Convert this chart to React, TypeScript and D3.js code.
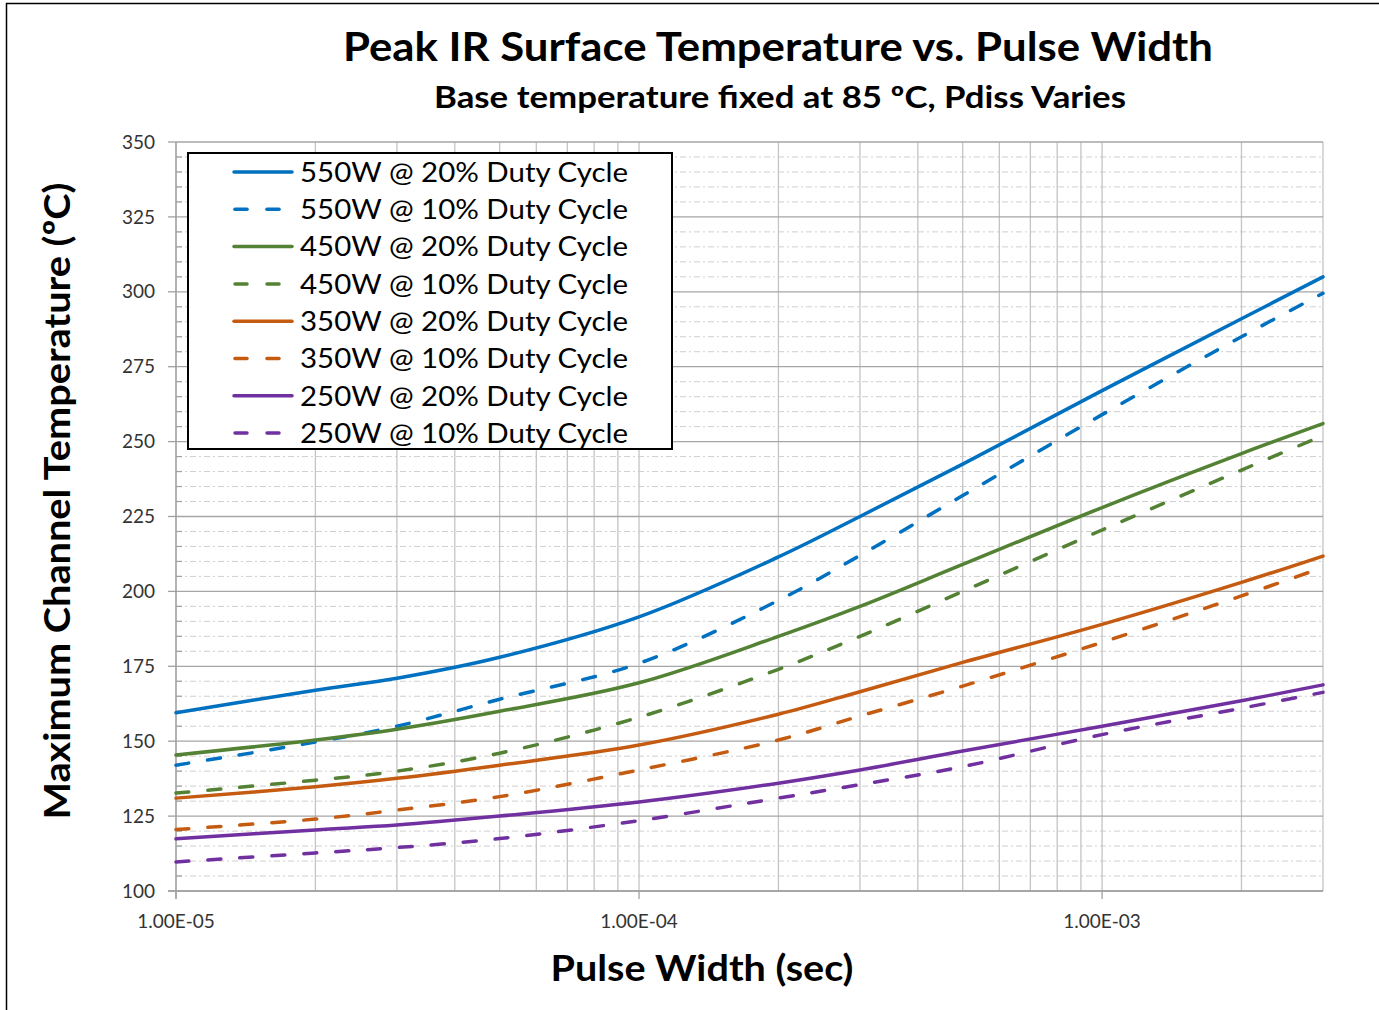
import React from "react";
import * as d3 from "d3";

const pulseWidths = [1e-5, 2e-5, 3e-5, 5e-5, 1e-4, 2e-4, 3e-4, 5e-4, 1e-3, 2e-3, 3e-3];

const w550d20 = [159.5, 167, 171, 178, 191.5, 211.5, 225, 242.5, 267, 291, 305];
const w550d10 = [142, 149.7, 155, 164, 176, 197, 212, 232, 259, 285, 299.5];
const w450d20 = [145.4, 150.4, 154, 160, 169.5, 185, 195, 209, 228, 246, 256];
const w450d10 = [132.7, 137, 140, 146, 158, 174, 185, 200, 220.5, 240.5, 252];
const w350d20 = [131, 134.8, 137.6, 142, 148.7, 159, 166.5, 176.3, 189, 203, 211.8];
const w350d10 = [120.5, 124, 127, 131.5, 140.4, 150.4, 158.4, 168.4, 183, 198.5, 208];
const w250d20 = [117.4, 120.4, 122, 125, 129.7, 136, 140.4, 146.7, 155, 163.5, 168.8];
const w250d10 = [109.7, 112.7, 114.5, 117.5, 123.5, 131, 135.5, 141.5, 152.2, 161, 166.3];

const seriesNames = [
  "550W @ 20% Duty Cycle",
  "550W @ 10% Duty Cycle",
  "450W @ 20% Duty Cycle",
  "450W @ 10% Duty Cycle",
  "350W @ 20% Duty Cycle",
  "350W @ 10% Duty Cycle",
  "250W @ 20% Duty Cycle",
  "250W @ 10% Duty Cycle",
];
const seriesValues = [w550d20, w550d10, w450d20, w450d10, w350d20, w350d10, w250d20, w250d10];
const seriesColors = ["#0070C0", "#0070C0", "#548235", "#548235", "#C55A11", "#C55A11", "#7030A0", "#7030A0"];
const seriesDashed = [false, true, false, true, false, true, false, true];

const yTicks = [100, 125, 150, 175, 200, 225, 250, 275, 300, 325, 350];
const xTickValues = [1e-5, 1e-4, 1e-3];
const xTickLabels = ["1.00E-05", "1.00E-04", "1.00E-03"];

const FONT = "Lato, 'Open Sans', sans-serif";

export default function App() {
  const W = 1379;
  const H = 1010;
  const left = 176, right = 1323, top = 142, bottom = 891;
  const x = d3.scaleLog().domain([1e-5, 3e-3]).range([left, right]);
  const y = d3.scaleLinear().domain([100, 350]).range([bottom, top]);

  const minorY = d3.range(100, 351, 5).filter((v) => v % 25 !== 0);
  const verticals: number[] = [];
  for (let e = -5; e <= -3; e++) {
    for (let m = 1; m <= 9; m++) {
      const v = m * Math.pow(10, e);
      if (v <= 3.0001e-3) verticals.push(v);
    }
  }

  const line = d3
    .line<number>()
    .x((_, i) => x(pulseWidths[i]))
    .y((d) => y(d))
    .curve(d3.curveCatmullRom.alpha(0.5));

  const legX = 188, legY = 153, legW = 484, legH = 296;
  const rowY0 = 172, rowStep = 37.3;

  return (
    <svg
      width={W}
      height={H}
      style={{ position: "absolute", left: 0, top: 0, background: "#fff" }}
      fontFamily={FONT}
    >
      <rect x={0} y={0} width={W} height={H} fill="#fff" />
      <rect x={6.5} y={3.5} width={W + 20} height={H + 20} fill="none" stroke="#000" strokeWidth={1.5} />

      {/* minor horizontal grid */}
      {minorY.map((v) => (
        <line key={"mh" + v} x1={left} x2={right} y1={y(v)} y2={y(v)} stroke="#cfcfcf" strokeWidth={1} strokeDasharray="6,3,2,3" />
      ))}
      {/* vertical grid */}
      {verticals.map((v) => (
        <line key={"v" + v} x1={x(v)} x2={x(v)} y1={top} y2={bottom} stroke="#c4c4c4" strokeWidth={1.3} />
      ))}
      {/* major horizontal grid */}
      {yTicks.map((v) => (
        <line key={"h" + v} x1={left} x2={right} y1={y(v)} y2={y(v)} stroke="#a6a6a6" strokeWidth={1.3} />
      ))}

      {/* axes */}
      <line x1={left} x2={left} y1={top} y2={bottom + 8} stroke="#a0a0a0" strokeWidth={1.3} />
      <line x1={left - 8} x2={right} y1={bottom} y2={bottom} stroke="#a0a0a0" strokeWidth={1.3} />
      {yTicks.map((v) => (
        <line key={"yt" + v} x1={left - 8} x2={left} y1={y(v)} y2={y(v)} stroke="#a0a0a0" strokeWidth={1.3} />
      ))}
      {minorY.map((v) => (
        <line key={"ymt" + v} x1={left} x2={left + 6} y1={y(v)} y2={y(v)} stroke="#a0a0a0" strokeWidth={1.2} />
      ))}
      {xTickValues.map((v) => (
        <line key={"xt" + v} x1={x(v)} x2={x(v)} y1={bottom} y2={bottom + 8} stroke="#a0a0a0" strokeWidth={1.3} />
      ))}

      {/* tick labels */}
      {yTicks.map((v) => (
        <text key={"yl" + v} x={155} y={y(v)} dy="0.35em" textAnchor="end" fontSize={19} fill="#333">
          {v}
        </text>
      ))}
      {xTickValues.map((v, i) => (
        <text key={"xl" + v} x={x(v)} y={928} textAnchor="middle" fontSize={19} fill="#333">
          {xTickLabels[i]}
        </text>
      ))}

      {/* series */}
      {seriesValues.map((vals, i) => (
        <path
          key={"s" + i}
          d={line(vals) || ""}
          fill="none"
          stroke={seriesColors[i]}
          strokeWidth={3.5}
          strokeDasharray={seriesDashed[i] ? "13,19" : undefined}
          strokeLinecap="round"
        />
      ))}

      {/* legend */}
      <rect x={legX} y={legY} width={legW} height={legH} fill="#fff" stroke="#000" strokeWidth={2} />
      {seriesNames.map((name, i) => {
        const ry = rowY0 + i * rowStep;
        return (
          <g key={"lg" + i}>
            {seriesDashed[i] ? (
              <>
                <line x1={235} x2={247} y1={ry} y2={ry} stroke={seriesColors[i]} strokeWidth={3.5} strokeLinecap="round" />
                <line x1={267} x2={279} y1={ry} y2={ry} stroke={seriesColors[i]} strokeWidth={3.5} strokeLinecap="round" />
              </>
            ) : (
              <line x1={234} x2={292} y1={ry} y2={ry} stroke={seriesColors[i]} strokeWidth={3.5} strokeLinecap="round" />
            )}
            <text x={300} y={ry} dy="0.36em" fontSize={27} fill="#000" textLength={328} lengthAdjust="spacingAndGlyphs">
              {name}
            </text>
          </g>
        );
      })}

      {/* titles */}
      <text x={778} y={61} textAnchor="middle" fontSize={40} fontWeight="bold" fill="#000" textLength={870} lengthAdjust="spacingAndGlyphs">
        Peak IR Surface Temperature vs. Pulse Width
      </text>
      <text x={780} y={108} textAnchor="middle" fontSize={30} fontWeight="bold" fill="#000" textLength={692} lengthAdjust="spacingAndGlyphs">
        Base temperature fixed at 85 ºC, Pdiss Varies
      </text>
      <text
        transform={`translate(70,${501}) rotate(-90)`}
        textAnchor="middle"
        fontSize={37}
        fontWeight="bold"
        fill="#000"
        textLength={637}
        lengthAdjust="spacingAndGlyphs"
      >
        Maximum Channel Temperature (ºC)
      </text>
      <text x={702} y={981} textAnchor="middle" fontSize={37} fontWeight="bold" fill="#000" textLength={303} lengthAdjust="spacingAndGlyphs">
        Pulse Width (sec)
      </text>
    </svg>
  );
}
